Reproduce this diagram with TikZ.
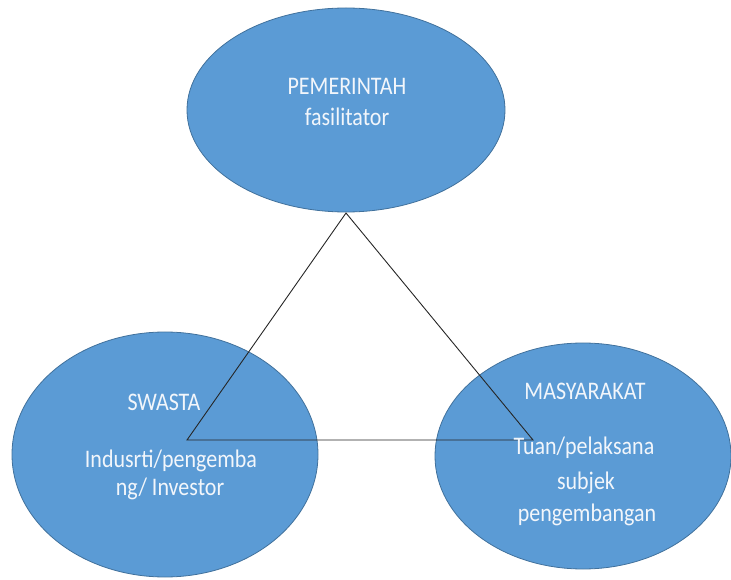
\documentclass[tikz,border=0pt]{standalone}
\usepackage{fontspec}
\setmainfont{Carlito}
\usetikzlibrary{shapes.geometric}
\definecolor{fillblue}{HTML}{5B9BD5}
\definecolor{edgeblue}{HTML}{41719C}
\definecolor{txtwhite}{HTML}{F2F6FB}
\tikzset{
  bubble/.style={ellipse, fill=fillblue, draw=edgeblue, line width=0.8pt, inner sep=0pt},
  txt/.style={text=txtwhite, anchor=base, inner sep=0pt, font=\fontsize{22}{26}\selectfont, yscale=1.15, transform shape},
  tri/.style={draw=black!85, line width=0.9pt, line join=miter}
}
\begin{document}
\begin{tikzpicture}[x=1pt,y=1pt]
\useasboundingbox (0,0) rectangle (731,579);
\node[bubble, minimum width=306pt, minimum height=245pt] (priv) at (165,124.5) {};
\node[bubble, minimum width=296pt, minimum height=226pt] (soc) at (583,123) {};
\node[bubble, minimum width=318pt, minimum height=204pt] (gov) at (346,469) {};
\coordinate (apex) at (346,366);
\coordinate (lv) at (187,139);
\coordinate (rv) at (533,139);
\draw[tri] (apex) -- (lv) -- (rv) -- cycle;
\node[txt] (t1) at (347,484) {PEMERINTAH};
\node[txt] (t2) at (347,453) {fasilitator};
\node[txt] (l1) at (164,169) {SWASTA};
\node[txt] (l2) at (171,112) {Indusrti/pengemba};
\node[txt] (l3) at (170,84) {ng/ Investor};
\node[txt] (r1) at (585,180) {MASYARAKAT};
\node[txt] (r2) at (584,125) {Tuan/pelaksana};
\node[txt] (r3) at (586,90) {subjek};
\node[txt] (r4) at (587,58) {pengembangan};
\end{tikzpicture}
\end{document}
